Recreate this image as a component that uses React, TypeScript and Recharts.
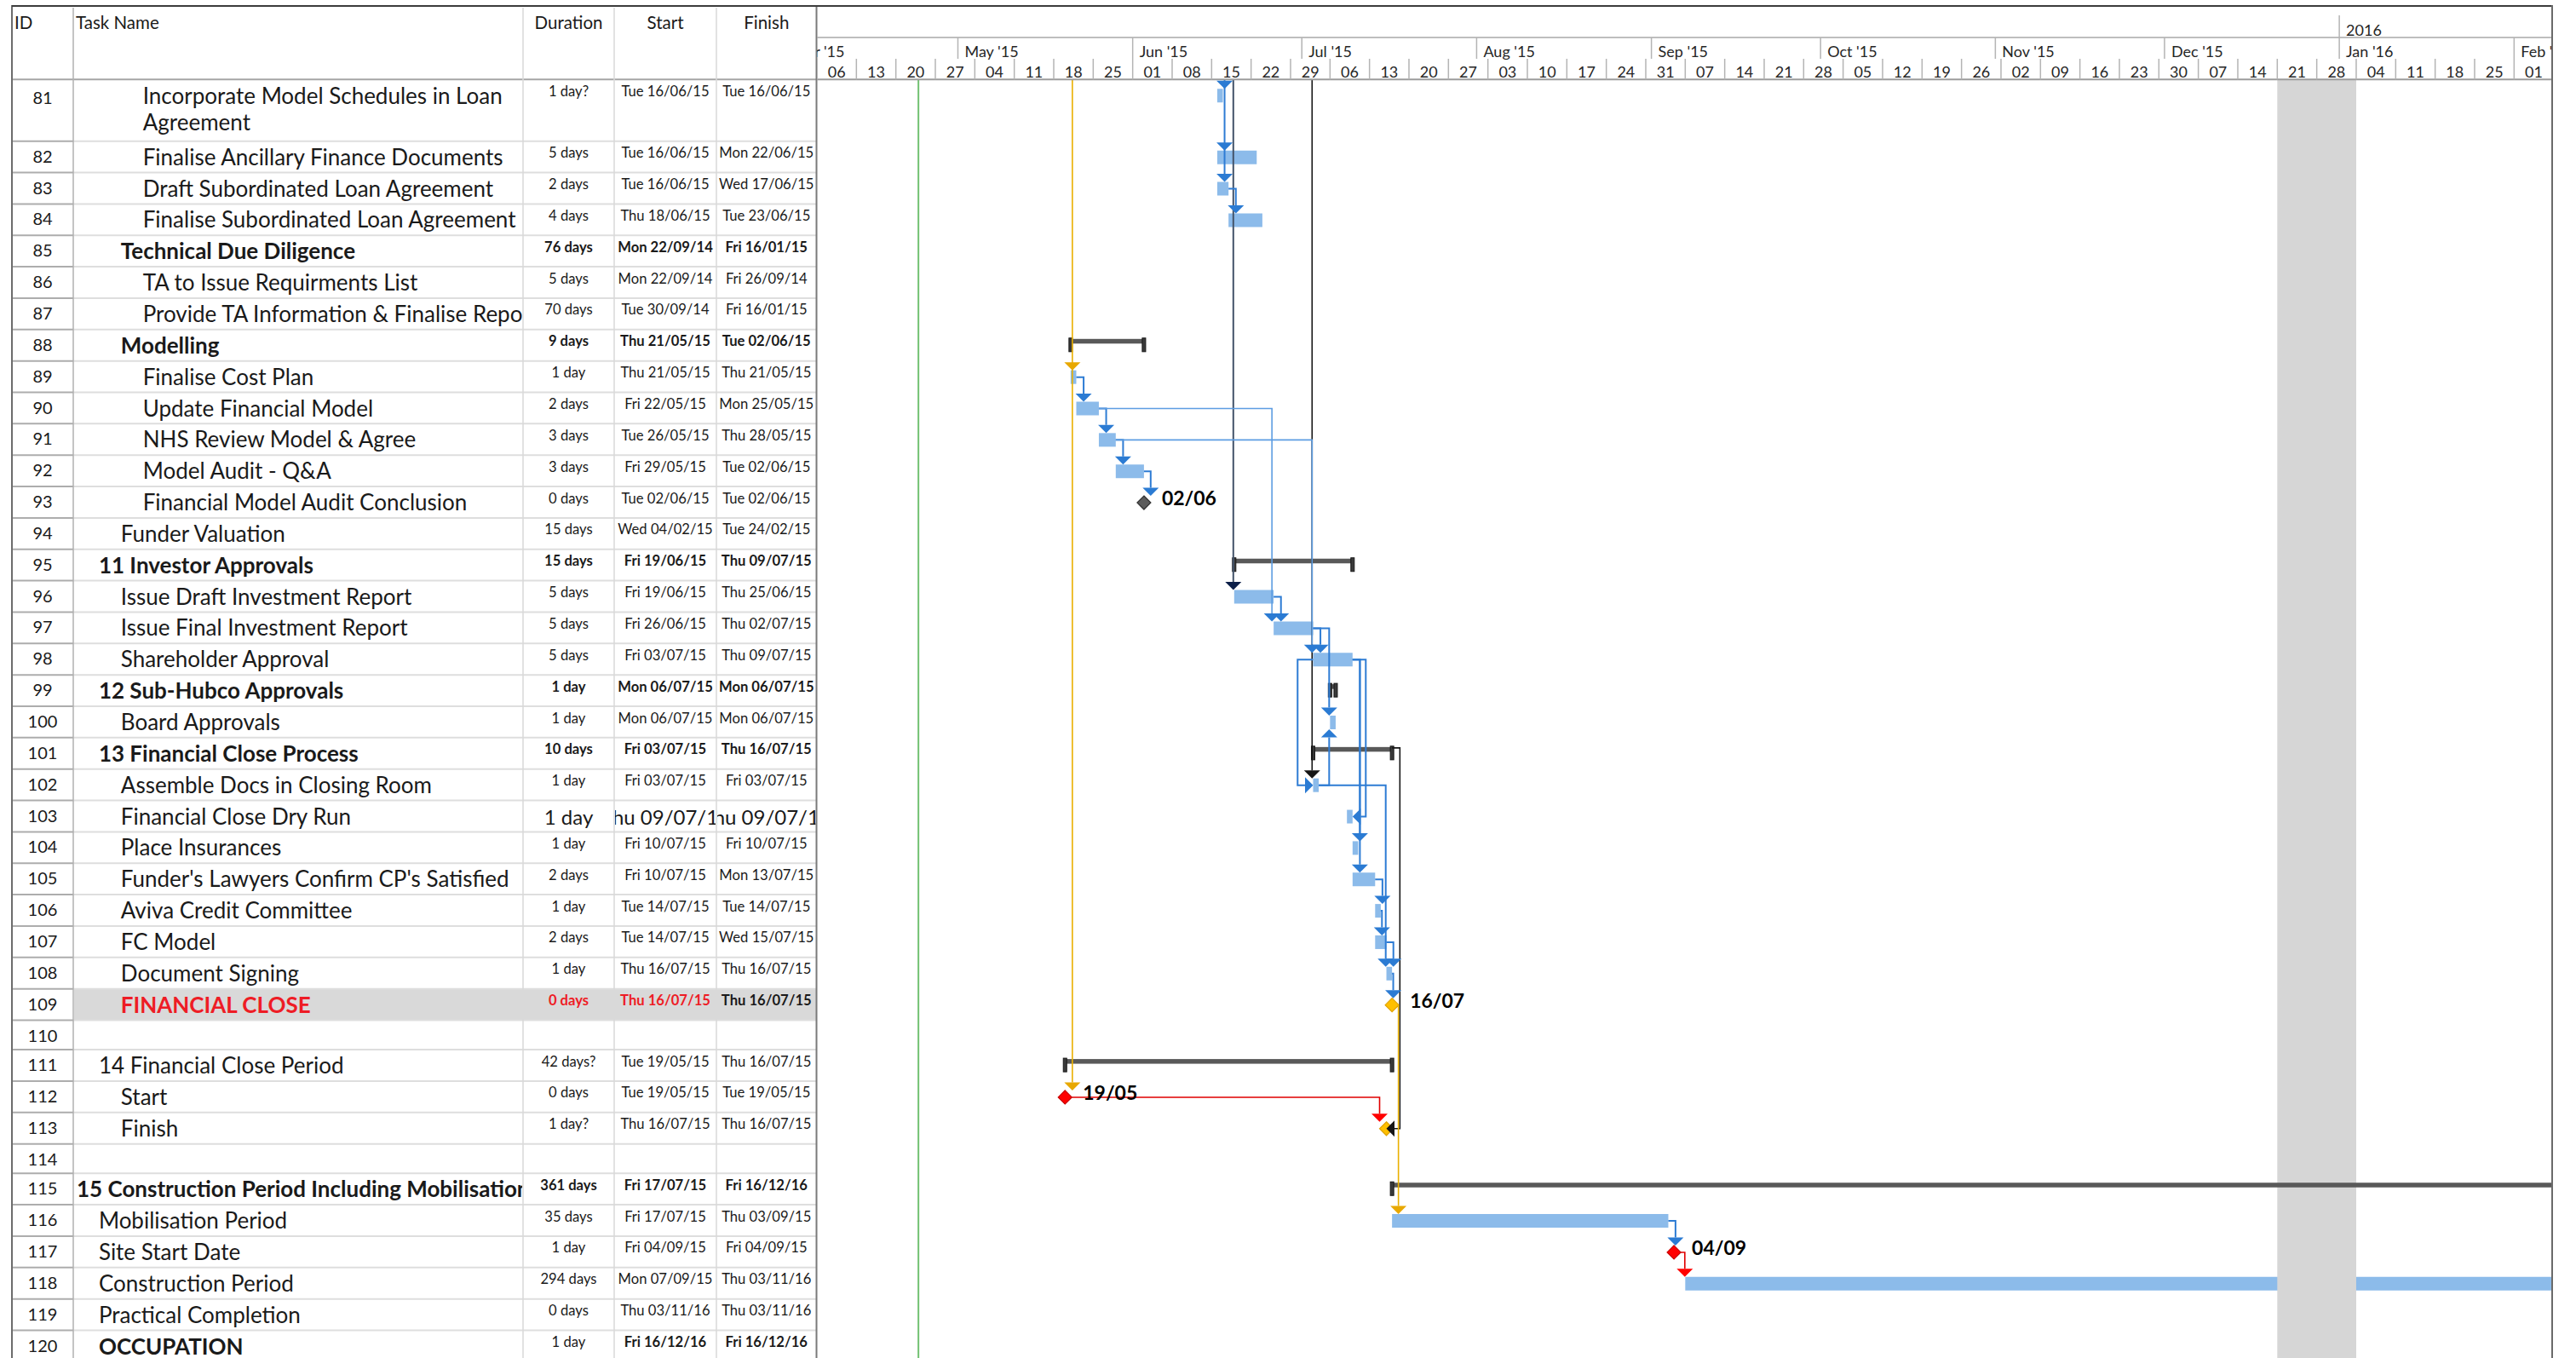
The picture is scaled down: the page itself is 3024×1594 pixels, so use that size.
import React from 'react';
import {
  ComposedChart,
  XAxis,
  YAxis,
  Line,
  ReferenceArea,
  ReferenceLine,
  ReferenceDot,
} from 'recharts';

// ---------- task table data ----------
const TASK_IDS = [81, 82, 83, 84, 85, 86, 87, 88, 89, 90, 91, 92, 93, 94, 95, 96, 97, 98, 99, 100, 101, 102, 103, 104, 105, 106, 107, 108, 109, 110, 111, 112, 113, 114, 115, 116, 117, 118, 119, 120];

const TASK_NAMES = [
  'Incorporate Model Schedules in Loan\nAgreement',
  'Finalise Ancillary Finance Documents',
  'Draft Subordinated Loan Agreement',
  'Finalise Subordinated Loan Agreement',
  'Technical Due Diligence',
  'TA to Issue Requirments List',
  'Provide TA Information & Finalise Report',
  'Modelling',
  'Finalise Cost Plan',
  'Update Financial Model',
  'NHS Review Model & Agree',
  'Model Audit - Q&A',
  'Financial Model Audit Conclusion',
  'Funder Valuation',
  '11 Investor Approvals',
  'Issue Draft Investment Report',
  'Issue Final Investment Report',
  'Shareholder Approval',
  '12 Sub-Hubco Approvals',
  'Board Approvals',
  '13 Financial Close Process',
  'Assemble Docs in Closing Room',
  'Financial Close Dry Run',
  'Place Insurances',
  "Funder's Lawyers Confirm CP's Satisfied",
  'Aviva Credit Committee',
  'FC Model',
  'Document Signing',
  'FINANCIAL CLOSE',
  '',
  '14 Financial Close Period',
  'Start',
  'Finish',
  '',
  '15 Construction Period Including Mobilisation',
  'Mobilisation Period',
  'Site Start Date',
  'Construction Period',
  'Practical Completion',
  'OCCUPATION',
];

const DURATIONS = ['1 day?', '5 days', '2 days', '4 days', '76 days', '5 days', '70 days', '9 days', '1 day', '2 days', '3 days', '3 days', '0 days', '15 days', '15 days', '5 days', '5 days', '5 days', '1 day', '1 day', '10 days', '1 day', '1 day', '1 day', '2 days', '1 day', '2 days', '1 day', '0 days', '', '42 days?', '0 days', '1 day?', '', '361 days', '35 days', '1 day', '294 days', '0 days', '1 day'];

const STARTS = ['Tue 16/06/15', 'Tue 16/06/15', 'Tue 16/06/15', 'Thu 18/06/15', 'Mon 22/09/14', 'Mon 22/09/14', 'Tue 30/09/14', 'Thu 21/05/15', 'Thu 21/05/15', 'Fri 22/05/15', 'Tue 26/05/15', 'Fri 29/05/15', 'Tue 02/06/15', 'Wed 04/02/15', 'Fri 19/06/15', 'Fri 19/06/15', 'Fri 26/06/15', 'Fri 03/07/15', 'Mon 06/07/15', 'Mon 06/07/15', 'Fri 03/07/15', 'Fri 03/07/15', 'Thu 09/07/15', 'Fri 10/07/15', 'Fri 10/07/15', 'Tue 14/07/15', 'Tue 14/07/15', 'Thu 16/07/15', 'Thu 16/07/15', '', 'Tue 19/05/15', 'Tue 19/05/15', 'Thu 16/07/15', '', 'Fri 17/07/15', 'Fri 17/07/15', 'Fri 04/09/15', 'Mon 07/09/15', 'Thu 03/11/16', 'Fri 16/12/16'];

const FINISHES = ['Tue 16/06/15', 'Mon 22/06/15', 'Wed 17/06/15', 'Tue 23/06/15', 'Fri 16/01/15', 'Fri 26/09/14', 'Fri 16/01/15', 'Tue 02/06/15', 'Thu 21/05/15', 'Mon 25/05/15', 'Thu 28/05/15', 'Tue 02/06/15', 'Tue 02/06/15', 'Tue 24/02/15', 'Thu 09/07/15', 'Thu 25/06/15', 'Thu 02/07/15', 'Thu 09/07/15', 'Mon 06/07/15', 'Mon 06/07/15', 'Thu 16/07/15', 'Fri 03/07/15', 'Thu 09/07/15', 'Fri 10/07/15', 'Mon 13/07/15', 'Tue 14/07/15', 'Wed 15/07/15', 'Thu 16/07/15', 'Thu 16/07/15', '', 'Thu 16/07/15', 'Tue 19/05/15', 'Thu 16/07/15', '', 'Fri 16/12/16', 'Thu 03/09/15', 'Fri 04/09/15', 'Thu 03/11/16', 'Thu 03/11/16', 'Fri 16/12/16'];

const OUTLINE_LEVELS = [3, 3, 3, 3, 2, 3, 3, 2, 3, 3, 3, 3, 3, 2, 1, 2, 2, 2, 1, 2, 1, 2, 2, 2, 2, 2, 2, 2, 2, 0, 1, 2, 2, 0, 0, 1, 1, 1, 1, 1];

const SUMMARY_IDS = [85, 88, 95, 99, 101, 111, 115];
const BOLD_IDS = [85, 88, 95, 99, 101, 109, 115, 120];
const CRITICAL_ID = 109;

// milestones: [task id, drawn at start or end of its date]
const MILESTONES: [number, 'start' | 'end'][] = [
  [93, 'end'], [109, 'end'], [112, 'end'], [113, 'start'], [117, 'end'], [119, 'end'],
];
const LABELLED_MILESTONES = [93, 109, 112, 117];

// links: [predecessor, successor, type]
const LINKS: [number, number, 'FS' | 'SS' | 'FF'][] = [
  [83, 84, 'FS'], [89, 90, 'FS'], [90, 91, 'FS'], [91, 92, 'FS'], [92, 93, 'FS'],
  [90, 97, 'FS'], [91, 98, 'FS'], [96, 97, 'FS'], [97, 98, 'FS'], [97, 100, 'FS'],
  [98, 102, 'SS'], [98, 103, 'FF'], [98, 104, 'FS'], [98, 105, 'FS'], [102, 100, 'FS'],
  [105, 106, 'FS'], [106, 107, 'FS'], [102, 108, 'FS'], [107, 108, 'FS'], [108, 109, 'FS'],
  [101, 113, 'FF'], [112, 113, 'FS'], [109, 116, 'FS'], [116, 117, 'FS'], [117, 118, 'FS'],
];

// links coming from tasks above the visible rows: [task whose start they drop to, successor rows]
const EXTERNAL_LINKS: [number, number[]][] = [
  [81, [81, 82, 83]],
  [89, [89, 112]],
  [96, [96]],
  [102, [102]],
];

const STATUS_DATE = '24/04/15';
const SHUTDOWN = ['21/12/15', '04/01/16'];

// ---------- timescale ----------
const WEEK_STARTS = ['06/04/15', '13/04/15', '20/04/15', '27/04/15', '04/05/15', '11/05/15', '18/05/15', '25/05/15', '01/06/15', '08/06/15', '15/06/15', '22/06/15', '29/06/15', '06/07/15', '13/07/15', '20/07/15', '27/07/15', '03/08/15', '10/08/15', '17/08/15', '24/08/15', '31/08/15', '07/09/15', '14/09/15', '21/09/15', '28/09/15', '05/10/15', '12/10/15', '19/10/15', '26/10/15', '02/11/15', '09/11/15', '16/11/15', '23/11/15', '30/11/15', '07/12/15', '14/12/15', '21/12/15', '28/12/15', '04/01/16', '11/01/16', '18/01/16', '25/01/16', '01/02/16'];
const MONTH_STARTS = ['01/04/15', '01/05/15', '01/06/15', '01/07/15', '01/08/15', '01/09/15', '01/10/15', '01/11/15', '01/12/15', '01/01/16', '01/02/16'];
const MONTH_LABELS = ["Apr '15", "May '15", "Jun '15", "Jul '15", "Aug '15", "Sep '15", "Oct '15", "Nov '15", "Dec '15", "Jan '16", "Feb '16"];
const YEAR_STARTS = ['01/01/16'];
const YEAR_LABELS = ['2016'];

// ---------- layout ----------
const FONT = 'Lato, "Open Sans", sans-serif';
const CHART_LEFT = 959;
const CHART_W = 2037;
const PX_PER_DAY = 6.619;
const DOMAIN_END = CHART_W / PX_PER_DAY;
const PLOT_TOP = 93.3;
const HEAD_MARGIN = 8;
const YEAR_H = 36;
const MONTH_H = 25;
const WEEK_H = PLOT_TOP - HEAD_MARGIN - YEAR_H - MONTH_H;
const ROW_H = 36.85;
const WRAP_H = 72.4;
const BLANK_H = 34.6;

const C = {
  bar: '#8cbbea',
  link: '#2e7cd4',
  linkLight: '#5d9de2',
  arrow: '#2b7bd3',
  gold: '#ffc000',
  goldLine: '#eab000',
  red: '#ff0000',
  black: '#151515',
  slate: '#44546a',
  navy: '#0c1f48',
  summary: '#595959',
  text: '#1a1a1a',
  critical: '#ee1c25',
};

// ---------- helpers ----------
const ORIGIN = Date.UTC(2015, 3, 6);
const dayOf = (s: string) => {
  const m = s.match(/(\d\d)\/(\d\d)\/(\d\d)/);
  if (!m) return NaN;
  return (Date.UTC(2000 + Number(m[3]), Number(m[2]) - 1, Number(m[1])) - ORIGIN) / 86400000;
};
const D = (px: number) => px / PX_PER_DAY;

const rowHeights = TASK_NAMES.map((n) => (n.includes('\n') ? WRAP_H : n === '' ? BLANK_H : ROW_H));
const rowTops: number[] = [];
let acc = 0;
rowHeights.forEach((h) => {
  rowTops.push(acc);
  acc += h;
});
const PLOT_H = acc;
const CHART_H = PLOT_TOP + PLOT_H;

const ix = (id: number) => TASK_IDS.indexOf(id);
const top = (id: number) => rowTops[ix(id)];
const startOf = (id: number) => dayOf(STARTS[ix(id)]);
const finishOf = (id: number) => dayOf(FINISHES[ix(id)]) + 1;
const msEntry = (id: number) => MILESTONES.find((m) => m[0] === id);
const isMs = (id: number) => !!msEntry(id);
const isSummary = (id: number) => SUMMARY_IDS.includes(id);
const msX = (id: number) => {
  const m = msEntry(id)!;
  return m[1] === 'end' ? finishOf(id) : startOf(id);
};
const leftX = (id: number) => (isMs(id) ? msX(id) - D(8) : startOf(id));
const rightX = (id: number) => (isMs(id) ? msX(id) + D(8) : finishOf(id));
const anchorX = (id: number) => (isMs(id) ? msX(id) : startOf(id));
const predY = (id: number) => top(id) + (isSummary(id) ? 12 : 19);
const barTop = (id: number) => top(id) + 11;
const barBottom = (id: number) => top(id) + 27;
const midY = (id: number) => top(id) + 19;

// link routing (pixel offsets of the vertical leg) and colours
const LINK_DX: Record<string, number> = {
  '92-93': 7.9, '90-97': -2, '91-98': -1.2, '97-100': -1, '102-100': -1, '102-108': -0.8,
  '106-107': 8, '107-108': 8.2, '108-109': 1.4, '109-116': 7.5, '112-113': -8,
  '116-117': 1.8, '117-118': -0.5, '98-102': 18.2, '98-103': 15.5, '101-113': 9.2,
};
const LINK_STYLE: Record<string, [string, string, number]> = {
  '90-97': [C.linkLight, C.arrow, 1.6],
  '91-98': [C.linkLight, C.arrow, 1.6],
  '101-113': [C.black, C.black, 1.6],
  '112-113': ['#e00000', C.red, 1.6],
  '117-118': ['#e00000', C.red, 1.6],
  '109-116': [C.goldLine, '#e8a800', 1.6],
};
const EXT_STYLE: [number, string, string, number][] = [
  [8.6, C.link, C.arrow, 2],
  [2, C.goldLine, '#e8a800', 1.6],
  [-1, C.slate, C.navy, 2],
  [-1.2, C.black, C.black, 1.6],
];

type Arrow = { t: number; y: number; dir: 'down' | 'up' | 'left' | 'right'; color: string };
type Path = { pts: { t: number; y: number }[]; color: string; width: number };

const ARW = 9.5;
const paths: Path[] = [];
const arrows: Arrow[] = [];

LINKS.forEach(([a, b, type]) => {
  const key = `${a}-${b}`;
  const dx = LINK_DX[key] ?? 8.6;
  const [lc, ac, w] = LINK_STYLE[key] ?? [C.link, C.arrow, 2];
  const y0 = predY(a);
  if (type === 'FS') {
    const X = anchorX(b) + D(dx);
    const up = top(b) < top(a);
    const tipY = up ? barBottom(b) : barTop(b);
    const baseY = up ? tipY + ARW : tipY - ARW;
    paths.push({ pts: [{ t: rightX(a), y: y0 }, { t: X, y: y0 }, { t: X, y: baseY }], color: lc, width: w });
    arrows.push({ t: X, y: tipY, dir: up ? 'up' : 'down', color: ac });
  } else if (type === 'SS') {
    const X = leftX(a) - D(dx);
    const tip = leftX(b);
    paths.push({
      pts: [{ t: leftX(a), y: y0 }, { t: X, y: y0 }, { t: X, y: midY(b) }, { t: tip - D(ARW), y: midY(b) }],
      color: lc,
      width: w,
    });
    arrows.push({ t: tip, y: midY(b), dir: 'right', color: ac });
  } else {
    const X = rightX(a) + D(dx);
    const tip = isMs(b) ? msX(b) : rightX(b);
    paths.push({
      pts: [{ t: rightX(a), y: y0 }, { t: X, y: y0 }, { t: X, y: midY(b) }, { t: tip + D(ARW), y: midY(b) }],
      color: lc,
      width: w,
    });
    arrows.push({ t: tip, y: midY(b), dir: 'left', color: ac });
  }
});

const extPaths: Path[] = [];
EXTERNAL_LINKS.forEach(([anchor, rows], i) => {
  const [dx, lc, ac, w] = EXT_STYLE[i];
  const X = anchorX(anchor) + D(dx);
  const last = rows[rows.length - 1];
  extPaths.push({ pts: [{ t: X, y: 0 }, { t: X, y: barTop(last) - ARW }], color: lc, width: w });
  rows.forEach((r) => arrows.push({ t: X, y: barTop(r), dir: 'down', color: ac }));
});

const barIds = TASK_IDS.filter((id, i) => STARTS[i] !== '' && !isSummary(id) && !isMs(id));

const MS_FILL: Record<number, [string, string]> = {
  93: ['#5c5c5c', '#333333'],
  109: [C.gold, '#e0a200'],
  113: [C.gold, '#e0a200'],
  112: [C.red, '#c80000'],
  117: [C.red, '#c80000'],
  119: ['#5c5c5c', '#333333'],
};

// ---------- shapes ----------
const ArrowShape = ({ cx, cy, dir, color }: any) => {
  let d = '';
  if (dir === 'down') d = `M${cx - ARW},${cy - ARW} L${cx + ARW},${cy - ARW} L${cx},${cy} Z`;
  if (dir === 'up') d = `M${cx - ARW},${cy + ARW} L${cx + ARW},${cy + ARW} L${cx},${cy} Z`;
  if (dir === 'right') d = `M${cx - ARW},${cy - ARW} L${cx - ARW},${cy + ARW} L${cx},${cy} Z`;
  if (dir === 'left') d = `M${cx + ARW},${cy - ARW} L${cx + ARW},${cy + ARW} L${cx},${cy} Z`;
  return <path d={d} fill={color} />;
};

const DiamondShape = ({ cx, cy, fill, stroke, label }: any) => (
  <g>
    <path d={`M${cx},${cy - 8} L${cx + 8},${cy} L${cx},${cy + 8} L${cx - 8},${cy} Z`} fill={fill} stroke={stroke} strokeWidth={1.2} />
    {label ? (
      <text x={cx + 21} y={cy + 3} fontFamily={FONT} fontWeight={700} fontSize={23} fill="#000">
        {label}
      </text>
    ) : null}
  </g>
);

const SummaryShape = ({ x, y, width }: any) => (
  <g>
    <rect x={x} y={y + 1} width={width} height={5.5} fill={C.summary} />
    <rect x={x - 2} y={y} width={4} height={16} fill="#3a3a3a" stroke="#161616" strokeWidth={1} />
    <rect x={x + width - 2} y={y} width={4} height={16} fill="#3a3a3a" stroke="#161616" strokeWidth={1} />
  </g>
);

const makeTick = (labels: Map<number, string>, band: number, lineFrom: number, centred: boolean) => (props: any) => {
  const { x, y, payload } = props;
  const label = labels.get(payload.value) ?? '';
  return (
    <g>
      <line x1={x} x2={x} y1={y - band + lineFrom} y2={y} stroke="#b4b4b4" strokeWidth={1.5} />
      <text
        x={centred ? x + 3.5 * PX_PER_DAY : x + 8}
        y={y - 2}
        textAnchor={centred ? 'middle' : 'start'}
        fontFamily={FONT}
        fontSize={18}
        fill="#262626"
      >
        {label}
      </text>
    </g>
  );
};

const weekTicks = WEEK_STARTS.map(dayOf);
const monthTicks = MONTH_STARTS.map(dayOf);
const yearTicks = YEAR_STARTS.map(dayOf);
const WeekTick = makeTick(new Map(WEEK_STARTS.map((s) => [dayOf(s), s.slice(0, 2)])), WEEK_H, 0, true);
const MonthTick = makeTick(new Map(MONTH_STARTS.map((s, i) => [dayOf(s), MONTH_LABELS[i]])), MONTH_H, 0, false);
const YearTick = makeTick(new Map(YEAR_STARTS.map((s, i) => [dayOf(s), YEAR_LABELS[i]])), YEAR_H, 10, false);

// calendar rows give the timescale axes some data to scale over
const calendar = weekTicks.map((t) => ({ t }));

const ax = { xAxisId: 't', yAxisId: 'r' };

function GanttChart() {
  return (
    <ComposedChart width={CHART_W} height={CHART_H} data={calendar} margin={{ top: HEAD_MARGIN, right: 0, bottom: 0, left: 0 }}>
      <XAxis xAxisId="tier1-week" orientation="top" type="number" dataKey="t" domain={[0, DOMAIN_END]} allowDataOverflow ticks={weekTicks} interval={0} height={WEEK_H} tickSize={0} tickMargin={0} tick={WeekTick} tickLine={false} axisLine={{ stroke: '#9c9c9c', strokeWidth: 2 }} />
      <XAxis xAxisId="tier2-month" orientation="top" type="number" dataKey="t" domain={[0, DOMAIN_END]} allowDataOverflow ticks={monthTicks} interval={0} height={MONTH_H} tickSize={0} tickMargin={0} tick={MonthTick} tickLine={false} axisLine={false} />
      <XAxis xAxisId="tier3-year" orientation="top" type="number" dataKey="t" domain={[0, DOMAIN_END]} allowDataOverflow ticks={yearTicks} interval={0} height={YEAR_H} tickSize={0} tickMargin={0} tick={YearTick} tickLine={false} axisLine={{ stroke: '#a8a8a8', strokeWidth: 1.5 }} />
      <XAxis xAxisId="t" type="number" dataKey="t" domain={[0, DOMAIN_END]} allowDataOverflow hide />
      <YAxis yAxisId="r" type="number" domain={[0, PLOT_H]} allowDataOverflow reversed hide />

      <ReferenceLine {...ax} x={dayOf(STATUS_DATE)} stroke="#72c172" strokeWidth={2} />

      {barIds.map((id) => (
        <ReferenceArea key={`bar-${id}`} {...ax} x1={startOf(id)} x2={finishOf(id)} y1={barTop(id)} y2={barBottom(id)} fill={C.bar} fillOpacity={1} stroke="none" ifOverflow="hidden" />
      ))}

      <ReferenceArea {...ax} x1={dayOf(SHUTDOWN[0])} x2={dayOf(SHUTDOWN[1])} y1={0} y2={PLOT_H} fill="#d6d6d6" fillOpacity={1} stroke="none" ifOverflow="hidden" />

      {extPaths.map((p, i) => (
        <Line key={`ext-${i}`} {...ax} data={p.pts} dataKey="y" type="linear" stroke={p.color} strokeWidth={p.width} dot={false} activeDot={false} isAnimationActive={false} />
      ))}

      {SUMMARY_IDS.map((id) => (
        <ReferenceArea key={`sum-${id}`} {...ax} x1={startOf(id) + (id === 111 ? 1 : 0)} x2={finishOf(id)} y1={top(id) + 10} y2={top(id) + 26} ifOverflow="hidden" shape={SummaryShape} />
      ))}

      {paths.map((p, i) => (
        <Line key={`link-${i}`} {...ax} data={p.pts} dataKey="y" type="linear" stroke={p.color} strokeWidth={p.width} dot={false} activeDot={false} isAnimationActive={false} />
      ))}

      {MILESTONES.map(([id]) => (
        <ReferenceDot
          key={`ms-${id}`}
          {...ax}
          x={msX(id)}
          y={midY(id)}
          r={8}
          ifOverflow="discard"
          shape={(p: any) => (
            <DiamondShape
              cx={p.cx}
              cy={p.cy}
              fill={MS_FILL[id][0]}
              stroke={MS_FILL[id][1]}
              label={LABELLED_MILESTONES.includes(id) ? FINISHES[ix(id)].slice(4, 9) : ''}
            />
          )}
        />
      ))}

      {arrows.map((a, i) => (
        <ReferenceDot key={`arr-${i}`} {...ax} x={a.t} y={a.y} r={8} ifOverflow="visible" shape={(p: any) => <ArrowShape cx={p.cx} cy={p.cy} dir={a.dir} color={a.color} />} />
      ))}
    </ComposedChart>
  );
}

// ---------- table ----------
const COLS = { id: [14, 86], name: [86, 614], dur: [614, 721], start: [721, 841], finish: [841, 958.5] };
const INDENT0 = 90;
const INDENT_STEP = 25.9;

function TaskTable() {
  return (
    <svg width={962} height={1600} style={{ position: 'absolute', left: 0, top: 0 }}>
      <defs>
        {(['name', 'dur', 'start', 'finish'] as const).map((k) => (
          <clipPath key={k} id={`clip-${k}`}>
            <rect x={COLS[k][0] + 1} y={0} width={COLS[k][1] - COLS[k][0] - 2} height={1600} />
          </clipPath>
        ))}
      </defs>

      {/* highlighted row */}
      <rect x={COLS.name[0] + 1} y={PLOT_TOP + top(CRITICAL_ID)} width={COLS.finish[1] - COLS.name[0] - 1} height={rowHeights[ix(CRITICAL_ID)]} fill="#d9d9d9" />

      {/* header */}
      <g fontFamily={FONT} fontSize={20.5} fill={C.text}>
        <text x={17} y={33.5}>ID</text>
        <text x={89} y={33.5}>Task Name</text>
        <text x={(COLS.dur[0] + COLS.dur[1]) / 2} y={33.5} textAnchor="middle">Duration</text>
        <text x={(COLS.start[0] + COLS.start[1]) / 2} y={33.5} textAnchor="middle">Start</text>
        <text x={(COLS.finish[0] + COLS.finish[1]) / 2} y={33.5} textAnchor="middle">Finish</text>
      </g>

      {/* rows */}
      {TASK_IDS.map((id, i) => {
        const T = PLOT_TOP + rowTops[i];
        const lines = TASK_NAMES[i].split('\n');
        const bold = BOLD_IDS.includes(id);
        const crit = id === CRITICAL_ID;
        const big = id === 103;
        const small = big ? 24 : 16.6;
        const smallY = big ? T + 28 : T + 19.5;
        const cell = (k: 'dur' | 'start' | 'finish', v: string, w: number, fill: string) => (
          <text clipPath={`url(#clip-${k})`} x={(COLS[k][0] + COLS[k][1]) / 2} y={smallY} textAnchor="middle" fontSize={small} fontWeight={w} fill={fill}>
            {v}
          </text>
        );
        return (
          <g key={id} fontFamily={FONT}>
            <text x={50} y={T + (lines.length > 1 ? 29 : 25)} textAnchor="middle" fontSize={20} fill={C.text}>
              {id}
            </text>
            {lines.map((ln, j) => (
              <text
                key={j}
                clipPath="url(#clip-name)"
                x={INDENT0 + OUTLINE_LEVELS[i] * INDENT_STEP}
                y={T + (lines.length > 1 ? 29 + j * 31 : 28)}
                fontSize={26}
                fontWeight={bold ? 700 : 400}
                fill={crit ? C.critical : C.text}
              >
                {ln}
              </text>
            ))}
            {cell('dur', DURATIONS[i], bold && id !== 120 ? 700 : 400, crit ? C.critical : C.text)}
            {cell('start', STARTS[i], bold ? 700 : 400, crit ? C.critical : C.text)}
            {cell('finish', FINISHES[i], bold ? 700 : 400, C.text)}
          </g>
        );
      })}

      {/* grid */}
      {TASK_IDS.map((id, i) => {
        const y = PLOT_TOP + rowTops[i] + rowHeights[i];
        return (
          <g key={`g-${id}`}>
            <line x1={COLS.id[0]} x2={COLS.id[1]} y1={y} y2={y} stroke="#adadad" strokeWidth={2} />
            <line x1={COLS.name[0]} x2={COLS.finish[1]} y1={y} y2={y} stroke="#dedede" strokeWidth={2} />
          </g>
        );
      })}
      <line x1={COLS.id[0]} x2={COLS.finish[1]} y1={PLOT_TOP} y2={PLOT_TOP} stroke="#a6a6a6" strokeWidth={2} />
      {[COLS.dur[0], COLS.start[0], COLS.finish[0]].map((x) => (
        <line key={`v-${x}`} x1={x} x2={x} y1={9} y2={1600} stroke="#d8d8d8" strokeWidth={1.5} />
      ))}
      <line x1={COLS.name[0]} x2={COLS.name[0]} y1={9} y2={1600} stroke="#b0b0b0" strokeWidth={1.5} />
      <line x1={COLS.id[0]} x2={COLS.id[0]} y1={6} y2={1600} stroke="#6d6d6d" strokeWidth={2} />
      <line x1={COLS.finish[1]} x2={COLS.finish[1]} y1={6} y2={1600} stroke="#7a7a7a" strokeWidth={2} />
    </svg>
  );
}

export default function App() {
  return (
    <div style={{ position: 'absolute', left: 0, top: 0, width: 3024, height: 1594, background: '#ffffff', overflow: 'hidden' }}>
      <TaskTable />
      <div style={{ position: 'absolute', left: CHART_LEFT, top: 0, width: CHART_W, height: CHART_H }}>
        <GanttChart />
      </div>
      <div style={{ position: 'absolute', left: 14, top: 6, width: 2983, height: 2, background: '#3c3c3c' }} />
      <div style={{ position: 'absolute', left: 2995, top: 6, width: 2, height: 1600, background: '#6a6a6a' }} />
    </div>
  );
}
